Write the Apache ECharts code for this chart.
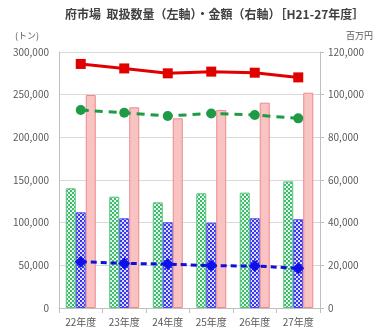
<!DOCTYPE html>
<html>
<head>
<meta charset="utf-8">
<script src="https://cdn.jsdelivr.net/npm/echarts@6/dist/echarts.min.js"></script>
<style>
  html, body { margin: 0; padding: 0; background: #fff; }
  #main { width: 380px; height: 336px; }
</style>
</head>
<body>
<div id="main"></div>
<script>
  'use strict';
  // 年度
  var categories = ['22年度', '23年度', '24年度', '25年度', '26年度', '27年度'];
  // 取扱数量（トン）左軸
  var qtyGreen = [140300, 130500, 123800, 134400, 135200, 148400];
  var qtyBlue = [112100, 105100, 100400, 100000, 105100, 104000];
  var qtyTotal = [249600, 235200, 222300, 232000, 240600, 252300];
  // 金額（百万円）右軸
  var amtTotal = [114400, 112300, 110000, 110800, 110300, 108100];
  var amtGreen = [92800, 91500, 90000, 91200, 90500, 88900];
  var amtBlue = [21700, 20900, 20600, 19800, 19700, 18600];

  function checker(c1, c2) {
    var cv = document.createElement('canvas');
    cv.width = 4; cv.height = 4;
    var ctx = cv.getContext('2d');
    ctx.fillStyle = c2;
    ctx.fillRect(0, 0, 4, 4);
    ctx.fillStyle = c1;
    ctx.fillRect(0, 0, 2, 2);
    ctx.fillRect(2, 2, 2, 2);
    return { image: cv, repeat: 'repeat' };
  }

  function fmt(v) {
    return String(v).replace(/\B(?=(\d{3})+(?!\d))/g, ',');
  }

  var txt = '#595959';
  var font = '"Noto Sans CJK JP", sans-serif';

  var option = {
    animation: false,
    textStyle: { fontFamily: font },
    title: {
      text: '府市場  取扱数量（左軸）・金額（右軸）［H21-27年度］',
      left: 60, top: 3,
      textStyle: { fontSize: 12, fontWeight: 'bold', color: '#404040', fontFamily: font }
    },
    grid: { left: 59, right: 60, top: 52, bottom: 28 },
    xAxis: {
      type: 'category',
      data: categories,
      axisLine: { lineStyle: { color: '#bfbfbf' } },
      axisTick: { show: true, lineStyle: { color: '#bfbfbf' } },
      axisLabel: { color: txt, fontSize: 10, margin: 9 }
    },
    yAxis: [{
      type: 'value',
      name: '(トン)',
      nameGap: 12,
      nameTextStyle: { color: txt, fontSize: 9, align: 'right', padding: [0, 20, 0, 0] },
      min: 0, max: 300000, interval: 50000,
      axisLine: { show: true, lineStyle: { color: '#bfbfbf' } },
      axisTick: { show: false },
      splitLine: { lineStyle: { color: '#d9d9d9' } },
      axisLabel: { color: txt, fontSize: 10, margin: 10, formatter: fmt }
    }, {
      type: 'value',
      name: '百万円',
      nameGap: 12,
      nameTextStyle: { color: txt, fontSize: 9, align: 'left', padding: [0, 0, 0, 26] },
      min: 0, max: 120000, interval: 20000,
      axisLine: { show: true, lineStyle: { color: '#bfbfbf' } },
      axisTick: { show: true, length: 4, lineStyle: { color: '#bfbfbf' } },
      splitLine: { show: false },
      axisLabel: { color: txt, fontSize: 10, margin: 8, formatter: fmt }
    }],
    series: [{
      type: 'bar', yAxisIndex: 0, data: qtyGreen,
      barWidth: 10, barGap: '0%',
      itemStyle: { color: checker('#3dba6c', '#e4f6ea'), borderColor: '#5cc585', borderWidth: 1 }
    }, {
      type: 'bar', yAxisIndex: 0, data: qtyBlue,
      barWidth: 10,
      itemStyle: { color: checker('#3636f0', '#dcdcff'), borderColor: '#4a4af0', borderWidth: 1 }
    }, {
      type: 'bar', yAxisIndex: 0, data: qtyTotal,
      barWidth: 10,
      itemStyle: { color: '#f9c3c3', borderColor: '#ee8a8a', borderWidth: 1 }
    }, {
      type: 'line', yAxisIndex: 1, data: amtTotal,
      symbol: 'rect', symbolSize: 10,
      lineStyle: { color: '#e00000', width: 3 },
      itemStyle: { color: '#e00000' }
    }, {
      type: 'line', yAxisIndex: 1, data: amtGreen,
      symbol: 'circle', symbolSize: 10,
      lineStyle: { color: '#1f9a45', width: 3, type: [8, 6] },
      itemStyle: { color: '#1f9a45' }
    }, {
      type: 'line', yAxisIndex: 1, data: amtBlue,
      symbol: 'diamond', symbolSize: 12,
      lineStyle: { color: '#1010d8', width: 3, type: [6, 4] },
      itemStyle: { color: '#1010e8' }
    }]
  };

  var myChart = echarts.init(document.getElementById('main'));
  myChart.setOption(option);
</script>
</body>
</html>
